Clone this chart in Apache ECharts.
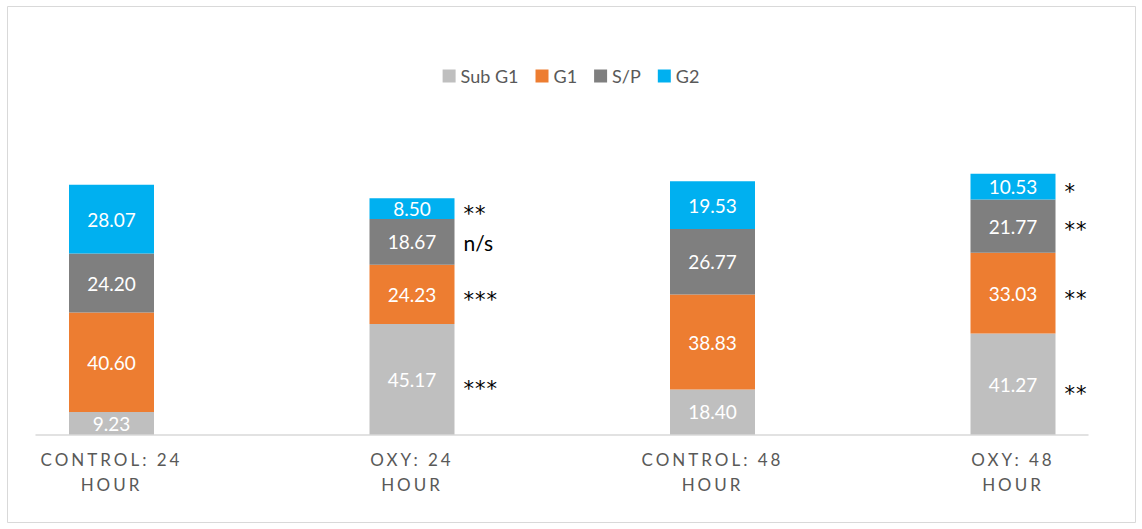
<!DOCTYPE html>
<html>
<head>
<meta charset="utf-8">
<script src="https://cdn.jsdelivr.net/npm/echarts@6/dist/echarts.min.js"></script>
<style>
html, body { margin: 0; padding: 0; background: #fff; }
#chart { width: 1142px; height: 529px; }
#chart text[fill="#595958"] { letter-spacing: 3px; }
#chart text[fill="#010101"] { letter-spacing: 1px; }
</style>
</head>
<body>
<div id="chart"></div>
<script>
const categories = ['CONTROL: 24\nHOUR', 'OXY: 24\nHOUR', 'CONTROL: 48\nHOUR', 'OXY: 48\nHOUR'];
const seriesNames = ['Sub G1', 'G1', 'S/P', 'G2'];
const subG1 = [9.23, 45.17, 18.40, 41.27];
const g1 = [40.60, 24.23, 38.83, 33.03];
const sp = [24.20, 18.67, 26.77, 21.77];
const g2 = [28.07, 8.50, 19.53, 10.53];
const annSubG1 = ['', '***', '', '**'];
const annG1 = ['', '***', '', '**'];
const annSP = ['', 'n/s', '', '**'];
const annG2 = ['', '**', '', '*'];
const colors = ['#bfbfbf', '#ed7d31', '#7f7f7f', '#00b0f0'];

const values = [subG1, g1, sp, g2];
const anns = [annSubG1, annG1, annSP, annG2];
const annOffsets = [[0, 10], [0, 6], [0, 4], [0, 5]];
const FONT = 'Lato, "Open Sans", sans-serif';

const series = [];
values.forEach((vals, i) => {
  series.push({
    name: seriesNames[i],
    type: 'bar',
    stack: 'main',
    barWidth: 85,
    barGap: '-100%',
    itemStyle: { color: colors[i] },
    label: {
      show: true,
      position: 'inside',
      color: '#ffffff',
      fontFamily: FONT,
      fontSize: 19,
      formatter: p => p.value.toFixed(2)
    },
    emphasis: { disabled: true },
    data: vals
  });
});
values.forEach((vals, i) => {
  series.push({
    name: seriesNames[i] + ' sig',
    type: 'bar',
    stack: 'ann',
    barWidth: 85,
    barGap: '-100%',
    itemStyle: { color: 'rgba(0,0,0,0)' },
    label: {
      show: true,
      position: 'right',
      distance: 9,
      offset: annOffsets[i],
      formatter: p => {
        const t = anns[i][p.dataIndex];
        if (!t) return '';
        return t.indexOf('*') >= 0 ? '{a|' + t + '}' : '{b|' + t + '}';
      },
      rich: {
        a: { color: '#010101', fontFamily: '"DejaVu Sans", sans-serif', fontSize: 21 },
        b: { color: '#000000', fontFamily: FONT, fontSize: 21, padding: [0, 0, 6, 0] }
      }
    },
    emphasis: { disabled: true },
    silent: true,
    data: vals
  });
});

const chart = echarts.init(document.getElementById('chart'), null, { renderer: 'svg' });
chart.setOption({
  animation: false,
  backgroundColor: '#ffffff',
  graphic: [{
    type: 'rect',
    shape: { x: 7.5, y: 6.5, width: 1128, height: 516 },
    style: { fill: 'none', stroke: '#d9d9d9', lineWidth: 1 },
    silent: true
  }],
  legend: {
    data: seriesNames,
    top: 62,
    left: 'center',
    icon: 'rect',
    itemWidth: 13,
    itemHeight: 13,
    itemGap: 17,
    textStyle: { color: '#595959', fontFamily: FONT, fontSize: 18 }
  },
  grid: [
    { left: 111.5, right: 129, top: 141, bottom: 94.5, containLabel: false },
    { left: 36, right: 54, top: 141, bottom: 94.5, containLabel: false }
  ],
  xAxis: [{
    type: 'category',
    gridIndex: 0,
    data: categories,
    boundaryGap: false,
    axisLine: { show: false },
    axisTick: { show: false },
    splitLine: { show: false },
    axisLabel: {
      color: '#595958',
      fontFamily: FONT,
      fontSize: 17,
      lineHeight: 25,
      margin: 12,
      interval: 0
    }
  }, {
    type: 'category',
    gridIndex: 1,
    data: categories,
    axisLine: { show: true, lineStyle: { color: '#d9d9d9', width: 1.5 } },
    axisTick: { show: false },
    axisLabel: { show: false },
    splitLine: { show: false }
  }],
  yAxis: [{
    type: 'value',
    gridIndex: 0,
    min: 0,
    max: 120,
    show: false
  }, {
    type: 'value',
    gridIndex: 1,
    min: 0,
    max: 120,
    show: false
  }],
  series: series
});
</script>
</body>
</html>
